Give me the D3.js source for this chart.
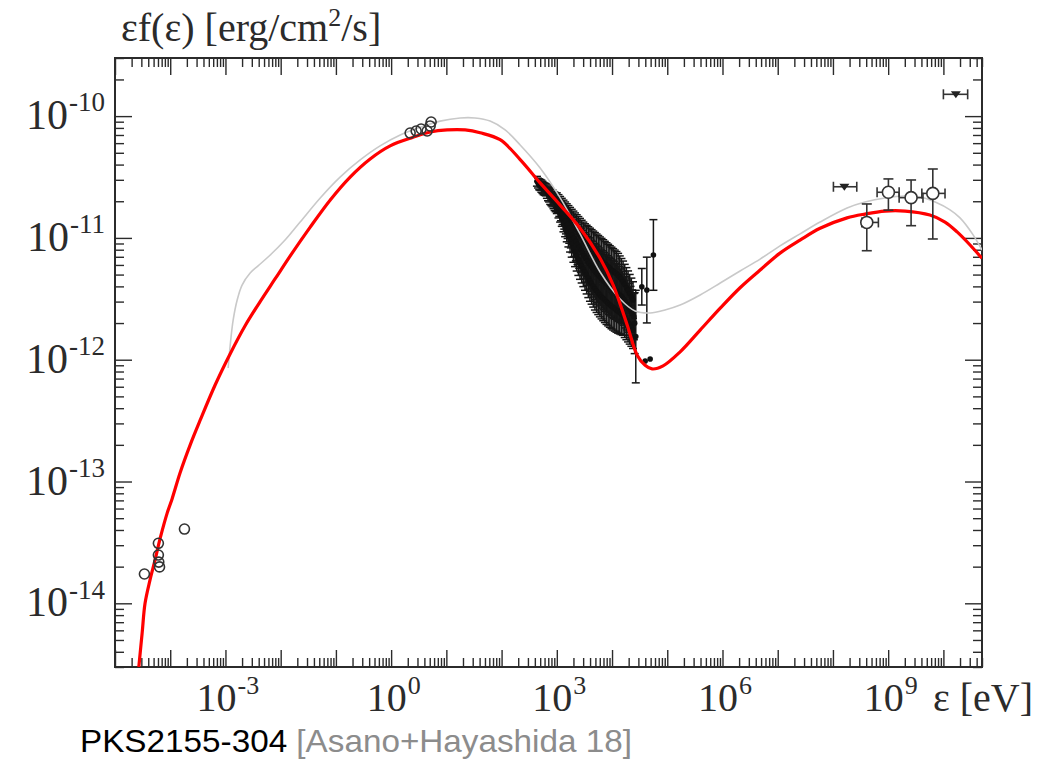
<!DOCTYPE html>
<html>
<head>
<meta charset="utf-8">
<script src="https://cdn.jsdelivr.net/npm/d3@7"></script>
<style>
  body { margin: 0; background: #fff; }
  svg { display: block; }
</style>
</head>
<body>
<svg id="chart" width="1056" height="759"></svg>
<script>
// ---- Model curves: photon energy (eV) and energy flux (erg/cm^2/s) ----
const modelRedE = [2.7e-5, 3.1e-5, 3.5e-5, 4.3e-5, 5.3e-5, 6.6e-5, 8.8e-5, 1.08e-4, 1.51e-4, 2.3e-4,
  3.5e-4, 6.5e-4, 1.22e-3, 2.27e-3, 4.25e-3, 7.9e-3, 1.61e-2, 3.4e-2, 7.9e-2, 0.181,
  0.417, 0.96, 2.5, 5.1, 10.3, 21.9, 40.9, 94, 217, 499,
  1150, 2640, 6080, 1.05e4, 1.88e4, 2.85e4, 3.97e4, 5.3e4, 8.4e4, 1.71e5,
  3.94e5, 9.1e5, 2.08e6, 4.8e6, 1.1e7, 2.54e7, 5.85e7, 1.8e8, 3.8e8, 8.8e8,
  2.03e9, 5.7e9, 1.07e10, 1.77e10, 3.04e10, 5.0e10];
const modelRedF = [3.0e-15, 5.7e-15, 1.0e-14, 1.55e-14, 2.26e-14, 3.44e-14, 5.5e-14, 7.2e-14, 1.18e-13, 2.0e-13,
  3.2e-13, 6.2e-13, 1.12e-12, 1.9e-12, 3.0e-12, 4.6e-12, 7.5e-12, 1.22e-11, 2.05e-11, 3.16e-11,
  4.45e-11, 5.7e-11, 6.7e-11, 7.4e-11, 7.7e-11, 7.7e-11, 7.3e-11, 6.4e-11, 4.4e-11, 2.83e-11,
  1.86e-11, 1.2e-11, 6.8e-12, 4.1e-12, 1.93e-12, 1.09e-12, 9.0e-13, 8.4e-13, 8.9e-13, 1.16e-12,
  1.75e-12, 2.65e-12, 3.9e-12, 5.45e-12, 7.5e-12, 9.6e-12, 1.2e-11, 1.46e-11, 1.57e-11, 1.66e-11,
  1.66e-11, 1.54e-11, 1.35e-11, 1.12e-11, 8.75e-12, 6.8e-12];

const modelGrayE = [1.12e-3, 1.22e-3, 1.38e-3, 1.63e-3, 2.0e-3, 2.8e-3, 3.9e-3, 6.4e-3, 1.2e-2, 2.25e-2,
  5.2e-2, 0.119, 0.275, 0.63, 1.46, 3.35, 7.7, 17.8, 33, 62,
  116, 217, 499, 1150, 2640, 6080, 1.4e4, 2.62e4, 4.9e4, 9.1e4,
  1.71e5, 3.94e5, 9.1e5, 2.08e6, 4.8e6, 1.1e7, 2.54e7, 5.85e7, 1.8e8, 3.8e8,
  8.8e8, 2.03e9, 3.8e9, 7.1e9, 1.32e10, 2.0e10, 3.45e10, 5.0e10];
const modelGrayF = [8.55e-13, 1.32e-12, 2.12e-12, 3.09e-12, 4.1e-12, 5.15e-12, 5.9e-12, 7.2e-12, 9.6e-12, 1.35e-11,
  2.13e-11, 3.16e-11, 4.37e-11, 5.7e-11, 7.0e-11, 8.1e-11, 9.1e-11, 9.65e-11, 9.65e-11, 9.1e-11,
  7.7e-11, 5.8e-11, 3.75e-11, 2.13e-11, 1.08e-11, 5.25e-12, 3.15e-12, 2.51e-12, 2.42e-12, 2.56e-12,
  2.81e-12, 3.4e-12, 4.26e-12, 5.35e-12, 6.7e-12, 8.6e-12, 1.08e-11, 1.35e-11, 1.76e-11, 1.97e-11,
  2.13e-11, 2.21e-11, 2.17e-11, 1.97e-11, 1.7e-11, 1.46e-11, 1.06e-11, 7.95e-12];

// ---- Radio and optical fluxes (open circles) ----
const radioE = [3.41e-5, 6.1e-5, 6.1e-5, 6.2e-5, 6.4e-5, 1.81e-4];
const radioF = [1.74e-14, 3.11e-14, 2.49e-14, 2.18e-14, 1.99e-14, 4.07e-14];
const opticalE = [2.21, 2.84, 3.49, 4.49, 5.08, 5.3];
const opticalF = [7.26e-11, 7.55e-11, 7.84e-11, 7.55e-11, 8.3e-11, 8.95e-11];

// ---- X-ray spectrum: log10 energy (eV), log10 flux, log10 half error ----
const xrayLogE = [
  2.64, 2.66, 2.68, 2.70, 2.72, 2.74, 2.76, 2.78, 2.80, 2.82, 2.84, 2.86, 2.88, 2.90, 2.92, 2.94, 2.96, 2.98,
  3.00, 3.00, 3.03, 3.03, 3.06, 3.06, 3.09, 3.09, 3.12, 3.12, 3.15, 3.15, 3.18, 3.18, 3.21, 3.21,
  3.24, 3.24, 3.27, 3.27, 3.30, 3.30, 3.33, 3.33, 3.36, 3.36, 3.39, 3.39, 3.42, 3.42, 3.45, 3.45,
  3.48, 3.48, 3.51, 3.51, 3.54, 3.54, 3.57, 3.57, 3.60, 3.60, 3.63, 3.63, 3.66, 3.66, 3.69, 3.69,
  3.72, 3.72, 3.75, 3.75, 3.78, 3.78, 3.81, 3.81, 3.84, 3.84, 3.87, 3.87, 3.90, 3.90, 3.93, 3.93,
  3.96, 3.96, 3.99, 3.99, 4.02, 4.02, 4.05, 4.05, 4.08, 4.08, 4.11, 4.11, 4.14, 4.14, 4.17, 4.17,
  4.20, 4.20, 4.23, 4.23, 4.26, 4.26, 4.29, 4.29, 4.32, 4.32, 4.35, 4.35, 4.38, 4.38, 4.41, 4.43,
  3.015, 3.045, 3.075, 3.105, 3.135, 3.165, 3.195, 3.225, 3.255, 3.285, 3.315, 3.345, 3.375, 3.405, 3.435, 3.465,
  3.495, 3.525, 3.555, 3.585, 3.615, 3.645, 3.675, 3.705, 3.735, 3.765, 3.795, 3.825, 3.855, 3.885, 3.915, 3.945,
  3.975, 4.005, 4.035, 4.065, 4.095, 4.125, 4.155, 4.185, 4.215, 4.245, 4.275, 4.305, 4.335, 4.365, 4.395,
  4.539, 4.630, 4.749, 4.600, 4.690];
const xrayLogF = [
  -10.535, -10.55, -10.56, -10.565, -10.575, -10.585, -10.595, -10.60, -10.605, -10.62, -10.635, -10.645, -10.66, -10.67, -10.675, -10.69, -10.70, -10.71,
  -10.680, -10.750, -10.695, -10.786, -10.72, -10.81, -10.74, -10.84, -10.76, -10.88, -10.785, -10.91, -10.805, -10.947, -10.825, -10.984,
  -10.85, -11.016, -10.875, -11.048, -10.895, -11.085, -10.915, -11.116, -10.935, -11.147, -10.955, -11.178, -10.975, -11.205, -10.995, -11.23,
  -11.015, -11.255, -11.034, -11.28, -11.051, -11.305, -11.068, -11.33, -11.085, -11.355, -11.102, -11.374, -11.114, -11.398, -11.131, -11.417,
  -11.143, -11.437, -11.16, -11.45, -11.172, -11.468, -11.184, -11.485, -11.20, -11.495, -11.213, -11.51, -11.225, -11.525, -11.237, -11.537,
  -11.249, -11.549, -11.261, -11.561, -11.273, -11.571, -11.285, -11.58, -11.292, -11.594, -11.307, -11.602, -11.323, -11.613, -11.339, -11.624,
  -11.36, -11.63, -11.382, -11.653, -11.409, -11.671, -11.431, -11.694, -11.46, -11.712, -11.485, -11.735, -11.51, -11.758, -11.70, -11.81,
  -10.73, -10.753, -10.779, -10.805, -10.833, -10.862, -10.89, -10.919, -10.947, -10.976, -11.003, -11.028, -11.054, -11.08, -11.101, -11.124,
  -11.147, -11.168, -11.189, -11.21, -11.229, -11.247, -11.265, -11.282, -11.298, -11.313, -11.328, -11.341, -11.355, -11.368, -11.381, -11.393,
  -11.405, -11.417, -11.427, -11.438, -11.449, -11.461, -11.475, -11.489, -11.506, -11.529, -11.551, -11.574, -11.598, -11.622, -11.646,
  -11.401, -11.428, -11.140, -12.010, -11.994];
const xrayLogErr = [
  0.04, 0.04, 0.045, 0.045, 0.05, 0.05, 0.05, 0.05, 0.05, 0.055, 0.06, 0.06, 0.065, 0.065, 0.07, 0.07, 0.075, 0.075,
  0.05, 0.05, 0.05, 0.05, 0.06, 0.06, 0.065, 0.065, 0.07, 0.07, 0.08, 0.08, 0.085, 0.085, 0.09, 0.09,
  0.10, 0.10, 0.11, 0.11, 0.115, 0.115, 0.12, 0.12, 0.125, 0.125, 0.13, 0.13, 0.135, 0.135, 0.14, 0.14,
  0.145, 0.145, 0.15, 0.15, 0.155, 0.155, 0.16, 0.16, 0.165, 0.165, 0.17, 0.17, 0.17, 0.17, 0.175, 0.175,
  0.175, 0.175, 0.18, 0.18, 0.18, 0.18, 0.18, 0.18, 0.185, 0.185, 0.185, 0.185, 0.185, 0.185, 0.185, 0.185,
  0.185, 0.185, 0.185, 0.185, 0.185, 0.185, 0.185, 0.185, 0.18, 0.18, 0.18, 0.18, 0.175, 0.175, 0.17, 0.17,
  0.17, 0.17, 0.165, 0.165, 0.165, 0.165, 0.16, 0.16, 0.16, 0.16, 0.155, 0.155, 0.15, 0.15, 0.25, 0.38,
  0.06, 0.07, 0.08, 0.085, 0.095, 0.105, 0.115, 0.125, 0.135, 0.145, 0.15, 0.16, 0.165, 0.17, 0.18, 0.185,
  0.19, 0.195, 0.20, 0.21, 0.21, 0.22, 0.22, 0.225, 0.23, 0.23, 0.23, 0.235, 0.235, 0.235, 0.235, 0.235,
  0.235, 0.235, 0.235, 0.23, 0.23, 0.225, 0.22, 0.215, 0.21, 0.21, 0.205, 0.20, 0.20, 0.195, 0.19,
  0.150, 0.270, 0.290, 0, 0];

// ---- Gamma-ray spectrum (Fermi-LAT bins) ----
const gammaE = [4.1e8, 1.01e9, 2.6e9, 6.43e9];
const gammaELo = [3.33e8, 6.3e8, 1.58e9, 4.07e9];
const gammaEHi = [6.65e8, 1.58e9, 4.27e9, 1.07e10];
const gammaF = [1.34e-11, 2.37e-11, 2.14e-11, 2.32e-11];
const gammaFLo = [7.85e-12, 1.69e-11, 1.26e-11, 9.8e-12];
const gammaFHi = [1.9e-11, 3.05e-11, 2.99e-11, 3.68e-11];
// upper limits
const limitE = [1.61e8, 1.68e10];
const limitELo = [1.02e8, 1.0e10];
const limitEHi = [2.7e8, 2.75e10];
const limitF = [2.63e-11, 1.51e-10];

// ---- Axis tick labels ----
const xTickExp = [-3, 0, 3, 6, 9];
const yTickExp = [-10, -11, -12, -13, -14];

// ---------------------------------------------------------------
const X0 = 115, X1 = 982, Y0 = 58, Y1 = 667;
const svg = d3.select('#chart');
const x = d3.scaleLog().domain([1e-5, 5e10]).range([X0, X1]);
const y = d3.scaleLog().domain([3e-15, 3e-10]).range([Y1, Y0]);
const ink = '#2b2b2b';
const serif = '"Liberation Serif", "Times New Roman", serif';

svg.append('defs').append('clipPath').attr('id', 'plot')
  .append('rect').attr('x', X0).attr('y', Y0).attr('width', X1 - X0).attr('height', Y1 - Y0);

// tick positions
const majorX = d3.range(-5, 11).map(k => Math.pow(10, k));
const minorX = [];
d3.range(-5, 11).forEach(k => d3.range(2, 10).forEach(m => {
  const v = m * Math.pow(10, k); if (v <= 5e10) minorX.push(v);
}));
const majorY = d3.range(-14, -9).map(k => Math.pow(10, k));
const minorY = [];
d3.range(-15, -9).forEach(k => d3.range(2, 10).forEach(m => {
  const v = m * Math.pow(10, k); if (v >= 3e-15 && v <= 3e-10) minorY.push(v);
}));

function styleAxis(g) {
  g.select('.domain').remove();
  g.selectAll('.tick line').attr('stroke', ink).attr('stroke-width', 1.4);
  g.selectAll('.tick text').remove();
}
const axes = svg.append('g');
[[minorX, 9], [majorX, 17]].forEach(([vals, len]) => {
  axes.append('g').attr('transform', `translate(0,${Y1})`)
    .call(d3.axisBottom(x).tickValues(vals).tickSize(-len).tickFormat('')).call(styleAxis);
  axes.append('g').attr('transform', `translate(0,${Y0})`)
    .call(d3.axisTop(x).tickValues(vals).tickSize(-len).tickFormat('')).call(styleAxis);
});
[[minorY, 9], [majorY, 17]].forEach(([vals, len]) => {
  axes.append('g').attr('transform', `translate(${X0},0)`)
    .call(d3.axisLeft(y).tickValues(vals).tickSize(-len).tickFormat('')).call(styleAxis);
  axes.append('g').attr('transform', `translate(${X1},0)`)
    .call(d3.axisRight(y).tickValues(vals).tickSize(-len).tickFormat('')).call(styleAxis);
});
svg.append('rect').attr('x', X0).attr('y', Y0).attr('width', X1 - X0).attr('height', Y1 - Y0)
  .attr('fill', 'none').attr('stroke', ink).attr('stroke-width', 2);

// power-of-ten labels: base and exponent as neighbouring text pieces
function powLabel(px, py, exp, anchor, size, sup) {
  const g = svg.append('g').style('font-family', serif).attr('fill', ink);
  const base = g.append('text').attr('y', py).style('font-size', size + 'px').text('10');
  const ex = g.append('text').attr('y', py - size * 0.42).style('font-size', sup + 'px').text(String(exp));
  const wb = base.node().getComputedTextLength(), we = ex.node().getComputedTextLength();
  const start = anchor === 'end' ? px - wb - we : px - (wb + we) / 2;
  base.attr('x', start);
  ex.attr('x', start + wb + 1);
}
xTickExp.forEach(e => powLabel(x(Math.pow(10, e)) + 2, 711, e, 'middle', 40, 26));
yTickExp.forEach(e => powLabel(104, y(Math.pow(10, e)) + 13, e, 'end', 42, 27));

svg.append('text').attr('x', 933).attr('y', 711)
  .style('font-family', serif).style('font-size', '40px').attr('fill', ink)
  .text('ε [eV]');

const title = svg.append('text').attr('x', 121).attr('y', 41)
  .style('font-family', serif).style('font-size', '40px').attr('fill', ink);
title.append('tspan').text('εf(ε) [erg/cm');
title.append('tspan').attr('dy', -15).style('font-size', '26px').text('2');
title.append('tspan').attr('dy', 15).text('/s]');

// ---- plot contents ----
const plot = svg.append('g').attr('clip-path', 'url(#plot)');
const line = d3.line().x(d => x(d[0])).y(d => y(d[1])).curve(d3.curveCatmullRom.alpha(0.5));

// X-ray error bars and points
const xray = d3.range(xrayLogE.length).map(i => ({
  e: Math.pow(10, xrayLogE[i]), f: Math.pow(10, xrayLogF[i]),
  lo: Math.pow(10, xrayLogF[i] - xrayLogErr[i]), hi: Math.pow(10, xrayLogF[i] + xrayLogErr[i]), err: xrayLogErr[i]
}));
const xg = plot.append('g').attr('stroke', '#161616').attr('stroke-width', 1.5);
xray.filter(d => d.err > 0).forEach(d => {
  const cx = x(d.e);
  xg.append('line').attr('x1', cx).attr('x2', cx).attr('y1', y(d.lo)).attr('y2', y(d.hi));
  xg.append('line').attr('x1', cx - 4).attr('x2', cx + 4).attr('y1', y(d.lo)).attr('y2', y(d.lo));
  xg.append('line').attr('x1', cx - 4).attr('x2', cx + 4).attr('y1', y(d.hi)).attr('y2', y(d.hi));
});
plot.append('g').selectAll('circle').data(xray).join('circle')
  .attr('cx', d => x(d.e)).attr('cy', d => y(d.f)).attr('r', 2.8)
  .attr('fill', '#111');

plot.append('path').datum(d3.zip(modelGrayE, modelGrayF)).attr('d', line)
  .attr('fill', 'none').attr('stroke', '#c9c9c9').attr('stroke-width', 1.6);

plot.append('path').datum(d3.zip(modelRedE, modelRedF)).attr('d', line)
  .attr('fill', 'none').attr('stroke', '#ff0000').attr('stroke-width', 3.2);

// radio + optical circles
plot.append('g').selectAll('circle').data(d3.zip(radioE.concat(opticalE), radioF.concat(opticalF))).join('circle')
  .attr('cx', d => x(d[0])).attr('cy', d => y(d[1])).attr('r', 5)
  .attr('fill', 'none').attr('stroke', '#333').attr('stroke-width', 1.6);

// gamma-ray bins
const gg = plot.append('g').attr('stroke', '#333').attr('stroke-width', 1.6);
gammaE.forEach((e, i) => {
  const cx = x(e), cy = y(gammaF[i]);
  gg.append('line').attr('x1', cx).attr('x2', cx).attr('y1', y(gammaFLo[i])).attr('y2', y(gammaFHi[i]));
  [gammaFLo[i], gammaFHi[i]].forEach(v => gg.append('line').attr('x1', cx - 5).attr('x2', cx + 5).attr('y1', y(v)).attr('y2', y(v)));
  gg.append('line').attr('x1', x(gammaELo[i])).attr('x2', x(gammaEHi[i])).attr('y1', cy).attr('y2', cy);
  [gammaELo[i], gammaEHi[i]].forEach(v => gg.append('line').attr('x1', x(v)).attr('x2', x(v)).attr('y1', cy - 5).attr('y2', cy + 5));
  gg.append('circle').attr('cx', cx).attr('cy', cy).attr('r', 6).attr('fill', '#fff');
});
limitE.forEach((e, i) => {
  const cx = x(e), cy = y(limitF[i]);
  gg.append('line').attr('x1', x(limitELo[i])).attr('x2', x(limitEHi[i])).attr('y1', cy).attr('y2', cy);
  [limitELo[i], limitEHi[i]].forEach(v => gg.append('line').attr('x1', x(v)).attr('x2', x(v)).attr('y1', cy - 5).attr('y2', cy + 5));
  gg.append('path').attr('d', `M${cx - 5},${cy - 3}L${cx + 5},${cy - 3}L${cx},${cy + 4}Z`).attr('fill', '#222').attr('stroke', 'none');
});

// caption
const cap = svg.append('text').attr('x', 80).attr('y', 751.5)
  .style('font-family', '"Liberation Sans", Arial, sans-serif').style('font-size', '32px');
cap.append('tspan').attr('fill', '#000').text('PKS2155-304 ');
cap.append('tspan').attr('fill', '#8c8c8c').text('[Asano+Hayashida 18]');
cap.attr('textLength', 552).attr('lengthAdjust', 'spacingAndGlyphs');
</script>
</body>
</html>
